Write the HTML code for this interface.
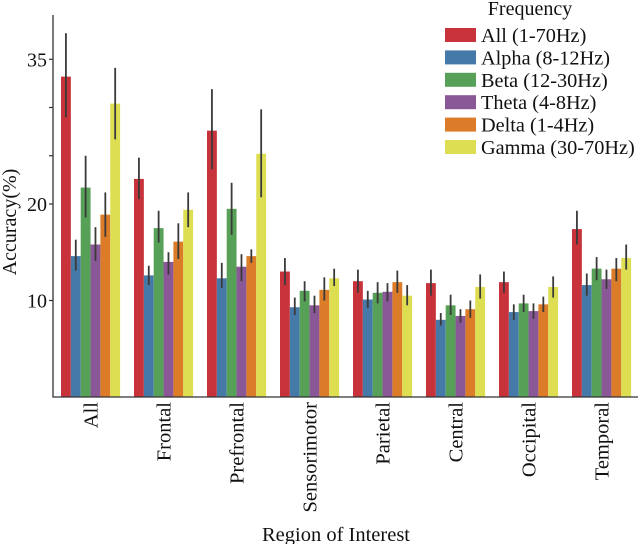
<!DOCTYPE html>
<html><head><meta charset="utf-8"><style>
body{margin:0;background:#fff}
svg{display:block;font-family:"Liberation Serif",serif}
</style></head><body>
<svg id="c" width="640" height="544" viewBox="0 0 640 544">
<g id="plot"></g>
</svg>
<script>
const regions=["All","Frontal","Prefrontal","Sensorimotor","Parietal","Central","Occipital","Temporal"];
const bands=["All (1-70Hz)","Alpha (8-12Hz)","Beta (12-30Hz)","Theta (4-8Hz)","Delta (1-4Hz)","Gamma (30-70Hz)"];
const colors=["#c8323a","#457aa8","#56a157","#8a5797","#dc7c28","#dede52"];
const yTicks=[10,20,25,30,35];
const yTickLabels=["10","20","","","35"];
const valAll=[33.2,14.6,21.7,15.8,18.9,30.4];
const valFrontal=[22.6,12.6,17.5,14.0,16.1,19.4];
const valPrefrontal=[27.6,12.3,19.5,13.5,14.6,25.2];
const valSensorimotor=[13.0,9.3,11.0,9.5,11.1,12.3];
const valParietal=[12.0,10.1,10.8,10.9,11.9,10.5];
const valCentral=[11.8,8.0,9.5,8.4,9.1,11.4];
const valOccipital=[11.9,8.8,9.7,8.9,9.6,11.4];
const valTemporal=[17.4,11.6,13.3,12.2,13.3,14.4];
const errLo=[[29,13.1,18.6,14.1,16.6,26.7],[20.5,11.6,16,12.7,14.3,17.6],[23.6,11.3,16.8,12,13.9,20.7],[11.6,8.5,9.9,8.7,10,11.5],[10.8,9.2,9.7,9.9,10.8,9.5],[10.5,7.4,8.5,7.7,8.2,10.2],[10.8,8,8.8,8.1,8.8,10.3],[15.8,10.5,12.1,11.2,12,13.2]];
const errHi=[[37.7,16.3,25,17.6,21.2,34.1],[24.8,13.6,19.3,15,18,21.2],[31.9,13.9,22.2,14.8,15.3,29.8],[14.4,10.3,12,10.5,12.4,13.3],[13.2,11,11.9,11.8,13.1,11.6],[13.2,8.7,10.6,9.1,10,12.7],[13,9.6,10.6,9.7,10.4,12.5],[19.3,12.8,14.5,13.2,14.4,15.8]];
const values=[valAll,valFrontal,valPrefrontal,valSensorimotor,valParietal,valCentral,valOccipital,valTemporal];

const NS="http://www.w3.org/2000/svg";
const g=document.getElementById('plot');
const X0=53,X1=638,Y0=397,YT=15;
const y=v=>Y0-v*9.65;
const groupX=i=>61+i*73;
const bw=9.85;
const barX=(i,j)=>groupX(i)+j*bw;
function mk(t,a){const e=document.createElementNS(NS,t);for(const k in a)e.setAttribute(k,a[k]);g.appendChild(e);return e;}

regions.forEach((r,i)=>{
  values[i].forEach((v,j)=>{
    const b=mk('rect',{x:barX(i,j),y:y(v),width:bw,height:Y0-y(v),fill:colors[j]});
    
    
    const e=mk('line',{x1:barX(i,j)+bw/2,x2:barX(i,j)+bw/2,y1:y(errLo[i][j]),y2:y(errHi[i][j]),stroke:'#3a3a3a','stroke-width':1.8});
    
    
  });
  const cx=groupX(i)+3*bw;
  const t=mk('text',{x:0,y:0,transform:`translate(${cx+7},402) rotate(-90)`,'text-anchor':'end','font-size':20.5,fill:'#111'});
  t.textContent=r;
  
  
});

const ax=mk('path',{d:`M${X0},${YT}V${Y0}H${X1}`,fill:'none',stroke:'#333','stroke-width':1.3});


yTicks.forEach((v,k)=>{
  const tk=mk('line',{x1:X0-4,x2:X0,y1:y(v),y2:y(v),stroke:'#333','stroke-width':1.2});
  
  
  if(yTickLabels[k]){
    const t=mk('text',{x:X0-6,y:y(v)+7,'text-anchor':'end','font-size':20,fill:'#111'});
    t.textContent=yTickLabels[k];
    
    
  }
});
const yl=mk('text',{x:0,y:0,transform:'translate(16,222) rotate(-90)','text-anchor':'middle','font-size':20,fill:'#111'});
yl.textContent='Accuracy(%)';


const xl=mk('text',{x:336,y:541,'text-anchor':'middle','font-size':20.5,fill:'#111'});
xl.textContent='Region of Interest';



const lt=mk('text',{x:530,y:15,'text-anchor':'middle','font-size':20,fill:'#111'});
lt.textContent='Frequency';


bands.forEach((b,j)=>{
  const cy=35+j*22.4;
  const sw=mk('rect',{x:445,y:cy-7,width:31,height:14,fill:colors[j]});
  
  
  const t=mk('text',{x:481,y:cy+7,'font-size':20.3,fill:'#111'});
  t.textContent=b;
  
  
});
</script>
</body></html>
